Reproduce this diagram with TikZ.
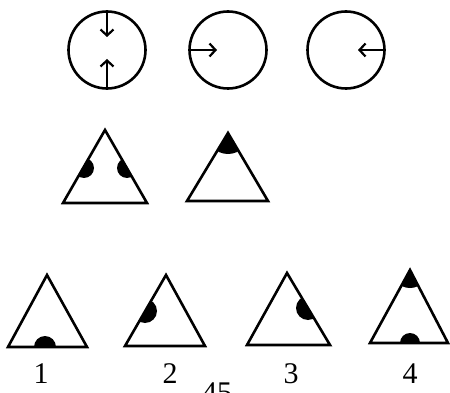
\documentclass[tikz,border=0pt]{standalone}
\usepackage{fontspec}
\setmainfont{Liberation Serif}
\usetikzlibrary{arrows.meta}
\begin{document}
\begin{tikzpicture}[x=1pt,y=-1pt,line width=2.6pt,
    font=\fontsize{30}{36}\selectfont,inner sep=0pt,
    ring/.style={circle,draw,minimum size=77pt},
    arr/.style={line width=2.2pt,-{Straight Barb[length=6pt,width=13pt]}},
    tri/.style={draw,line join=miter}]
    \path[use as bounding box] (0,0) rectangle (450,393);
    \clip (0,0) rectangle (450,393);
    % circles
    \node[ring] (c1) at (107,50) {};
    \node[ring] (c2) at (228,50) {};
    \node[ring] (c3) at (346,50) {};
    \coordinate (t1) at (107,37);
    \coordinate (t2) at (107,59);
    \coordinate (t3) at (217,50);
    \coordinate (t4) at (358,50);
    \draw[arr] (c1.north) -- (t1);
    \draw[arr] (c1.south) -- (t2);
    \draw[arr] (c2.west) -- (t3);
    \draw[arr] (c3.east) -- (t4);
    % middle row
    \begin{scope}
      \clip (105,130) -- (63,203) -- (147,203) -- cycle;
      \fill (84,168) circle (10pt);
      \fill (127,168) circle (10pt);
    \end{scope}
    \draw[tri] (105,130) -- (63,203) -- (147,203) -- cycle;
    \begin{scope}
      \clip (228,133) -- (187,201) -- (268,201) -- cycle;
      \fill (228,133) circle (21pt);
    \end{scope}
    \draw[tri] (228,133) -- (187,201) -- (268,201) -- cycle;
    % bottom row
    \begin{scope}
      \clip (47,275) -- (8,347) -- (87,347) -- cycle;
      \fill (45,347) circle (11pt);
    \end{scope}
    \draw[tri] (47,275) -- (8,347) -- (87,347) -- cycle;
    \begin{scope}
      \clip (166,275) -- (125,346) -- (205,346) -- cycle;
      \fill (145,311) circle (12pt);
    \end{scope}
    \draw[tri] (166,275) -- (125,346) -- (205,346) -- cycle;
    \begin{scope}
      \clip (287,273) -- (247,345) -- (330,345) -- cycle;
      \fill (308,308) circle (12pt);
    \end{scope}
    \draw[tri] (287,273) -- (247,345) -- (330,345) -- cycle;
    \begin{scope}
      \clip (410,270) -- (370,343) -- (448,343) -- cycle;
      \fill (410,270) circle (18pt);
      \fill (410,343) circle (10pt);
    \end{scope}
    \draw[tri] (410,270) -- (370,343) -- (448,343) -- cycle;
    % labels
    \node[anchor=base] (n1) at (41,383) {1};
    \node[anchor=base] (n2) at (170,383) {2};
    \node[anchor=base] (n3) at (291,383) {3};
    \node[anchor=base] (n4) at (410,383) {4};
    \node[anchor=base] (pg) at (217,402) {45};
  \end{tikzpicture}
\end{document}
